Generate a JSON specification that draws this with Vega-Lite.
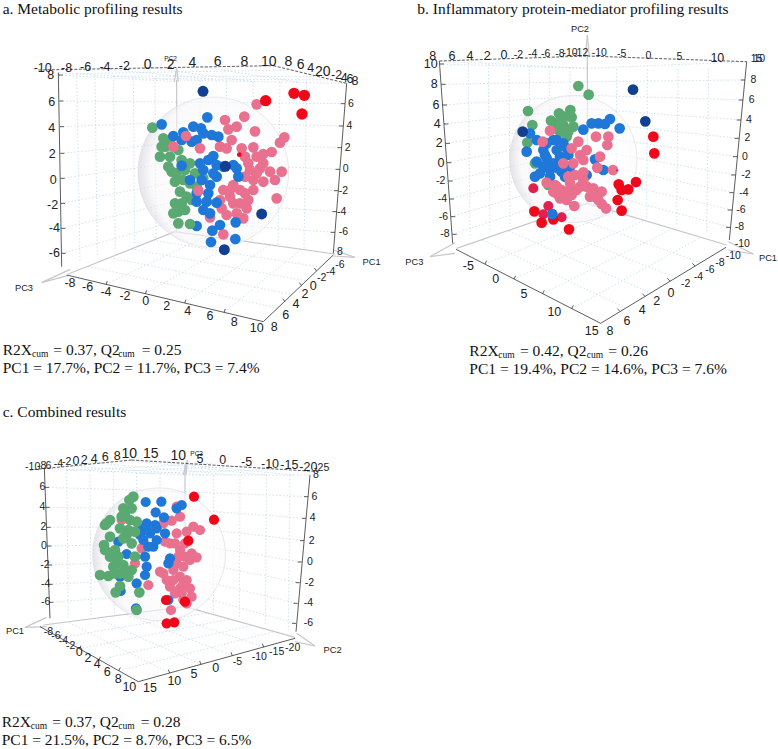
{"$schema":"https://vega.github.io/schema/vega-lite/v6.json","padding":0,"background":"white","spacing":0,"config":{"view":{"stroke":null}},
"datasets":{
"aGrid":[{"x":175,"y":225,"x2":530,"y2":245},{"x":178,"y":303,"x2":530,"y2":306},{"x":180,"y":380,"x2":530,"y2":366},{"x":181,"y":460,"x2":530,"y2":429},{"x":182,"y":535,"x2":530,"y2":487},{"x":183,"y":610,"x2":530,"y2":546},{"x":184,"y":685,"x2":530,"y2":604},{"x":185,"y":760,"x2":530,"y2":663},
{"x":530,"y":306,"x2":1035,"y2":311},{"x":530,"y":366,"x2":1030,"y2":378},{"x":530,"y":429,"x2":1025,"y2":443},{"x":530,"y":487,"x2":1020,"y2":508},{"x":530,"y":546,"x2":1015,"y2":572},{"x":530,"y":604,"x2":1010,"y2":635},{"x":530,"y":663,"x2":1005,"y2":697},
{"x":230,"y":221,"x2":240,"y2":783},{"x":285,"y":225,"x2":292,"y2":766},{"x":340,"y":228,"x2":346,"y2":749},{"x":400,"y":232,"x2":404,"y2":735},{"x":465,"y":236,"x2":468,"y2":715},
{"x":600,"y":241,"x2":600,"y2":705},{"x":680,"y":243,"x2":678,"y2":716},{"x":760,"y":245,"x2":756,"y2":727},{"x":840,"y":246,"x2":834,"y2":738},{"x":920,"y":248,"x2":912,"y2":749},
{"x":318,"y":853,"x2":620,"y2":708},{"x":436,"y":881,"x2":715,"y2":721},{"x":554,"y":909,"x2":810,"y2":734},{"x":672,"y":937,"x2":905,"y2":747},
{"x":460,"y":721,"x2":958,"y2":801},{"x":395,"y":747,"x2":916,"y2":842},{"x":330,"y":773,"x2":874,"y2":883},{"x":265,"y":799,"x2":832,"y2":924},
{"x":230,"y":221,"x2":875,"y2":210},{"x":340,"y":228,"x2":950,"y2":230},{"x":465,"y":236,"x2":1000,"y2":240},{"x":300,"y":205,"x2":640,"y2":238},{"x":450,"y":203,"x2":760,"y2":245},{"x":600,"y":199,"x2":900,"y2":247},{"x":175,"y":218,"x2":530,"y2":240},{"x":530,"y":240,"x2":1040,"y2":250}],
"aArrow":[{"x":530,"y":240,"x2":530,"y2":695},{"x":205,"y":822,"x2":525,"y2":695},{"x":525,"y":695,"x2":1005,"y2":762},{"x":125,"y":848,"x2":210,"y2":808},{"x":125,"y":848,"x2":205,"y2":826},{"x":1065,"y":772,"x2":1000,"y2":750},{"x":1065,"y":772,"x2":1000,"y2":768},{"x":530,"y":205,"x2":523,"y2":245},{"x":530,"y":205,"x2":535,"y2":245}],
"aFrame":[{"x":175,"y":218,"x2":185,"y2":800},{"x":1040,"y":250,"x2":1000,"y2":760},{"x":200,"y":825,"x2":790,"y2":965},{"x":790,"y":965,"x2":1000,"y2":765},
{"x":175,"y":225,"x2":188,"y2":225},{"x":178,"y":303,"x2":190,"y2":303},{"x":180,"y":380,"x2":192,"y2":380},{"x":181,"y":460,"x2":193,"y2":460},{"x":182,"y":535,"x2":194,"y2":535},{"x":183,"y":610,"x2":195,"y2":610},{"x":184,"y":685,"x2":196,"y2":685},{"x":185,"y":760,"x2":197,"y2":760},
{"x":1035,"y":311,"x2":1022,"y2":311},{"x":1030,"y":378,"x2":1017,"y2":378},{"x":1025,"y":443,"x2":1012,"y2":443},{"x":1020,"y":508,"x2":1007,"y2":508},{"x":1015,"y":572,"x2":1002,"y2":572},{"x":1010,"y":635,"x2":997,"y2":635},{"x":1005,"y":697,"x2":992,"y2":697},
{"x":318,"y":853,"x2":322,"y2":843},{"x":436,"y":881,"x2":440,"y2":871},{"x":554,"y":909,"x2":558,"y2":899},{"x":672,"y":937,"x2":676,"y2":927},{"x":905,"y":857,"x2":898,"y2":848},{"x":855,"y":905,"x2":848,"y2":896},{"x":950,"y":813,"x2":943,"y2":804}],
"aTop":[{"x":115,"y":210,"x2":820,"y2":197},{"x":820,"y":197,"x2":1040,"y2":250}],
"aSphere":[{"x":640,"y":517}],
"aPts":[{"g":"green","x":457,"y":383},{"g":"green","x":490,"y":415},{"g":"green","x":497,"y":440},{"g":"green","x":480,"y":470},{"g":"green","x":510,"y":470},{"g":"green","x":535,"y":450},{"g":"green","x":545,"y":480},{"g":"green","x":570,"y":490},{"g":"green","x":555,"y":510},{"g":"green","x":515,"y":515},{"g":"green","x":525,"y":545},{"g":"green","x":550,"y":540},{"g":"green","x":570,"y":550},{"g":"green","x":540,"y":575},{"g":"green","x":560,"y":590},{"g":"green","x":585,"y":520},{"g":"green","x":610,"y":535},{"g":"green","x":525,"y":610},{"g":"green","x":535,"y":635},{"g":"green","x":555,"y":630},{"g":"blue","x":590,"y":678},{"g":"green","x":535,"y":670},{"g":"green","x":570,"y":672},{"g":"green","x":575,"y":600},{"g":"green","x":485,"y":440},{"g":"green","x":505,"y":500},{"g":"green","x":530,"y":520},{"g":"green","x":545,"y":610},{"g":"green","x":520,"y":640},{"g":"green","x":590,"y":560},{"g":"green","x":600,"y":520},{"g":"green","x":510,"y":420},
{"g":"pink","x":770,"y":313},{"g":"pink","x":675,"y":360},{"g":"pink","x":733,"y":350},{"g":"pink","x":685,"y":388},{"g":"pink","x":710,"y":380},{"g":"pink","x":765,"y":394},{"g":"pink","x":695,"y":420},{"g":"pink","x":853,"y":412},{"g":"pink","x":840,"y":428},{"g":"pink","x":660,"y":440},{"g":"pink","x":680,"y":445},{"g":"pink","x":725,"y":445},{"g":"pink","x":760,"y":442},{"g":"pink","x":815,"y":456},{"g":"pink","x":790,"y":462},{"g":"pink","x":770,"y":470},{"g":"pink","x":735,"y":470},{"g":"pink","x":745,"y":490},{"g":"pink","x":790,"y":490},{"g":"pink","x":810,"y":515},{"g":"pink","x":845,"y":515},{"g":"pink","x":825,"y":540},{"g":"pink","x":770,"y":520},{"g":"pink","x":760,"y":540},{"g":"pink","x":790,"y":545},{"g":"pink","x":735,"y":530},{"g":"pink","x":700,"y":555},{"g":"pink","x":670,"y":570},{"g":"pink","x":720,"y":570},{"g":"pink","x":760,"y":570},{"g":"pink","x":690,"y":590},{"g":"pink","x":830,"y":595},{"g":"pink","x":745,"y":600},{"g":"pink","x":660,"y":600},{"g":"pink","x":720,"y":610},{"g":"pink","x":740,"y":625},{"g":"pink","x":680,"y":645},{"g":"pink","x":710,"y":640},{"g":"pink","x":730,"y":655},{"g":"pink","x":670,"y":703},{"g":"pink","x":630,"y":652},{"g":"pink","x":520,"y":440},{"g":"pink","x":750,"y":510},{"g":"pink","x":700,"y":610},{"g":"pink","x":665,"y":625},{"g":"pink","x":735,"y":580},{"g":"pink","x":690,"y":570},{"g":"pink","x":780,"y":505},
{"g":"blue","x":622,"y":352},{"g":"blue","x":485,"y":373},{"g":"blue","x":580,"y":380},{"g":"blue","x":603,"y":385},{"g":"blue","x":550,"y":397},{"g":"blue","x":520,"y":408},{"g":"blue","x":610,"y":400},{"g":"blue","x":635,"y":405},{"g":"blue","x":655,"y":410},{"g":"blue","x":545,"y":420},{"g":"blue","x":575,"y":425},{"g":"blue","x":590,"y":420},{"g":"blue","x":640,"y":468},{"g":"blue","x":625,"y":480},{"g":"blue","x":600,"y":490},{"g":"blue","x":650,"y":495},{"g":"blue","x":700,"y":495},{"g":"blue","x":610,"y":510},{"g":"blue","x":545,"y":497},{"g":"blue","x":710,"y":505},{"g":"blue","x":715,"y":530},{"g":"blue","x":570,"y":540},{"g":"blue","x":605,"y":540},{"g":"blue","x":650,"y":530},{"g":"blue","x":630,"y":555},{"g":"blue","x":590,"y":605},{"g":"blue","x":620,"y":605},{"g":"blue","x":650,"y":608},{"g":"blue","x":610,"y":630},{"g":"blue","x":630,"y":640},{"g":"blue","x":660,"y":675},{"g":"blue","x":707,"y":667},{"g":"blue","x":637,"y":692},{"g":"blue","x":633,"y":726},{"g":"blue","x":706,"y":717},{"g":"blue","x":670,"y":500},{"g":"blue","x":640,"y":520},{"g":"blue","x":590,"y":580},{"g":"blue","x":625,"y":580},
{"g":"pink","x":558,"y":408},{"g":"pink","x":600,"y":445},{"g":"pink","x":595,"y":572},
{"g":"navy","x":609,"y":274},{"g":"navy","x":676,"y":499},{"g":"navy","x":785,"y":642},{"g":"navy","x":673,"y":749},{"g":"red","x":797,"y":302},{"g":"red","x":882,"y":280},{"g":"red","x":913,"y":286},{"g":"red","x":906,"y":342},{"g":"dot","x":718,"y":464}],
"aTicks":[{"x":128,"y":205,"t":"-10","k":"M"},{"x":200,"y":203,"t":"-8","k":"M"},{"x":257,"y":202,"t":"-6","k":"M"},{"x":315,"y":200,"t":"-4","k":"M"},{"x":373,"y":197,"t":"-2","k":"M"},{"x":443,"y":195,"t":"0","k":"L"},{"x":512,"y":194,"t":"2","k":"L"},{"x":577,"y":190,"t":"4","k":"L"},{"x":653,"y":187,"t":"6","k":"L"},{"x":733,"y":185,"t":"8","k":"L"},{"x":806,"y":185,"t":"10","k":"L"},{"x":865,"y":185,"t":"8","k":"L"},{"x":902,"y":194,"t":"6","k":"L"},{"x":932,"y":203,"t":"4","k":"M"},{"x":968,"y":215,"t":"20","k":"L"},{"x":1010,"y":226,"t":"-2","k":"M"},{"x":1033,"y":233,"t":"4","k":"M"},{"x":1050,"y":238,"t":"6","k":"M"},{"x":1065,"y":243,"t":"8","k":"M"},{"x":512,"y":178,"t":"PC2","k":"XS"},
{"x":152,"y":226,"t":"8","k":"M"},{"x":155,"y":305,"t":"6","k":"M"},{"x":155,"y":385,"t":"4","k":"M"},{"x":157,"y":462,"t":"2","k":"M"},{"x":160,"y":540,"t":"0","k":"M"},{"x":158,"y":615,"t":"-2","k":"M"},{"x":163,"y":683,"t":"-4","k":"M"},{"x":163,"y":760,"t":"-6","k":"M"},
{"x":1053,"y":311,"t":"6","k":"S"},{"x":1048,"y":378,"t":"4","k":"S"},{"x":1043,"y":443,"t":"2","k":"S"},{"x":1037,"y":508,"t":"0","k":"S"},{"x":1030,"y":572,"t":"-2","k":"S"},{"x":1025,"y":635,"t":"-4","k":"S"},{"x":1030,"y":697,"t":"-6","k":"S"},{"x":1020,"y":755,"t":"8","k":"S"},
{"x":1115,"y":787,"t":"PC1","k":"P"},{"x":72,"y":863,"t":"PC3","k":"P"},
{"x":210,"y":850,"t":"-8","k":"M"},{"x":263,"y":862,"t":"-6","k":"M"},{"x":318,"y":875,"t":"-4","k":"M"},{"x":375,"y":888,"t":"-2","k":"M"},{"x":437,"y":903,"t":"0","k":"M"},{"x":500,"y":917,"t":"2","k":"M"},{"x":563,"y":932,"t":"4","k":"M"},{"x":630,"y":948,"t":"6","k":"M"},{"x":703,"y":965,"t":"8","k":"M"},{"x":770,"y":983,"t":"10","k":"M"},
{"x":1020,"y":795,"t":"-6","k":"S"},{"x":992,"y":815,"t":"-4","k":"S"},{"x":965,"y":835,"t":"-2","k":"S"},{"x":940,"y":858,"t":"0","k":"M"},{"x":915,"y":882,"t":"2","k":"M"},{"x":888,"y":912,"t":"4","k":"M"},{"x":857,"y":945,"t":"6","k":"M"},{"x":823,"y":982,"t":"8","k":"M"}],
"aCap":[{"x":8,"y":42,"t":"a. Metabolic profiling results","k":"T"},{"x":8,"y":1065,"t":"R2X","k":"T"},{"x":96,"y":1072,"t":"cum","k":"sub"},{"x":160,"y":1065,"t":"= 0.37, Q2","k":"T"},{"x":355,"y":1072,"t":"cum","k":"sub"},{"x":425,"y":1065,"t":"= 0.25","k":"T"},{"x":8,"y":1118,"t":"PC1 = 17.7%, PC2 = 11.7%, PC3 = 7.4%","k":"T"}],

"bGrid":[{"x":149,"y":192,"x2":592,"y2":205},{"x":154,"y":253,"x2":592,"y2":245},{"x":158,"y":315,"x2":592,"y2":286},{"x":162,"y":372,"x2":592,"y2":326},{"x":167,"y":430,"x2":592,"y2":367},{"x":171,"y":488,"x2":592,"y2":407},{"x":175,"y":543,"x2":592,"y2":448},{"x":179,"y":597,"x2":592,"y2":488},{"x":183,"y":650,"x2":592,"y2":529},{"x":187,"y":703,"x2":592,"y2":569},
{"x":592,"y":245,"x2":1065,"y2":240},{"x":592,"y":286,"x2":1059,"y2":300},{"x":592,"y":326,"x2":1053,"y2":360},{"x":592,"y":367,"x2":1047,"y2":415},{"x":592,"y":407,"x2":1042,"y2":470},{"x":592,"y":448,"x2":1036,"y2":525},{"x":592,"y":488,"x2":1031,"y2":578},{"x":592,"y":529,"x2":1026,"y2":630},{"x":592,"y":569,"x2":1021,"y2":682},
{"x":235,"y":188,"x2":240,"y2":715},{"x":295,"y":192,"x2":300,"y2":697},{"x":357,"y":195,"x2":360,"y2":679},{"x":418,"y":198,"x2":420,"y2":661},{"x":479,"y":200,"x2":480,"y2":643},{"x":540,"y":203,"x2":540,"y2":625},
{"x":680,"y":207,"x2":680,"y2":633},{"x":772,"y":207,"x2":770,"y2":656},{"x":864,"y":207,"x2":860,"y2":679},{"x":956,"y":207,"x2":950,"y2":702},
{"x":285,"y":792,"x2":675,"y2":636},{"x":372,"y":837,"x2":758,"y2":663},{"x":458,"y":881,"x2":842,"y2":689},{"x":545,"y":926,"x2":925,"y2":716},{"x":513,"y":638,"x2":933,"y2":788},{"x":434,"y":665,"x2":858,"y2":833},{"x":356,"y":693,"x2":782,"y2":879},{"x":277,"y":720,"x2":707,"y2":924},
{"x":148,"y":183,"x2":592,"y2":205},{"x":592,"y":205,"x2":1070,"y2":185}],
"bArrow":[{"x":592,"y":165,"x2":592,"y2":610},{"x":200,"y":745,"x2":592,"y2":610},{"x":592,"y":610,"x2":1010,"y2":735},{"x":592,"y":105,"x2":586,"y2":170},{"x":592,"y":105,"x2":598,"y2":170},{"x":120,"y":770,"x2":195,"y2":728},{"x":120,"y":770,"x2":195,"y2":760},{"x":1090,"y":762,"x2":1015,"y2":725},{"x":1090,"y":762,"x2":1015,"y2":750}],
"bFrame":[{"x":148,"y":183,"x2":188,"y2":730},{"x":1070,"y":185,"x2":1018,"y2":720},{"x":198,"y":748,"x2":632,"y2":970},{"x":632,"y":970,"x2":1008,"y2":742},
{"x":149,"y":192,"x2":162,"y2":192},{"x":154,"y":253,"x2":167,"y2":253},{"x":158,"y":315,"x2":171,"y2":315},{"x":162,"y":372,"x2":175,"y2":372},{"x":167,"y":430,"x2":180,"y2":430},{"x":171,"y":488,"x2":184,"y2":488},{"x":175,"y":543,"x2":188,"y2":543},{"x":179,"y":597,"x2":192,"y2":597},{"x":183,"y":650,"x2":196,"y2":650},{"x":187,"y":703,"x2":200,"y2":703},
{"x":1065,"y":240,"x2":1052,"y2":240},{"x":1059,"y":300,"x2":1046,"y2":300},{"x":1053,"y":360,"x2":1040,"y2":360},{"x":1047,"y":415,"x2":1034,"y2":415},{"x":1042,"y":470,"x2":1029,"y2":470},{"x":1036,"y":525,"x2":1023,"y2":525},{"x":1031,"y":578,"x2":1018,"y2":578},{"x":1026,"y":630,"x2":1013,"y2":630},{"x":1021,"y":682,"x2":1008,"y2":682},
{"x":285,"y":792,"x2":290,"y2":782},{"x":372,"y":837,"x2":377,"y2":827},{"x":458,"y":881,"x2":463,"y2":871},{"x":545,"y":926,"x2":550,"y2":916},{"x":915,"y":798,"x2":907,"y2":790},{"x":840,"y":843,"x2":832,"y2":835},{"x":765,"y":889,"x2":757,"y2":881},{"x":690,"y":934,"x2":682,"y2":926}],
"bTop":[{"x":148,"y":183,"x2":592,"y2":168},{"x":592,"y":168,"x2":1070,"y2":185}],
"bSphere":[{"x":550,"y":477}],
"bPts":[{"g":"green","x":565,"y":258},{"g":"green","x":596,"y":284},{"g":"green","x":414,"y":333},{"g":"green","x":427,"y":375},{"g":"green","x":541,"y":330},{"g":"green","x":507,"y":340},{"g":"green","x":483,"y":362},{"g":"green","x":545,"y":352},{"g":"green","x":520,"y":375},{"g":"green","x":550,"y":380},{"g":"green","x":490,"y":385},{"g":"green","x":510,"y":395},{"g":"green","x":535,"y":395},{"g":"green","x":412,"y":428},{"g":"green","x":435,"y":490},{"g":"green","x":475,"y":555},{"g":"green","x":525,"y":350},{"g":"green","x":530,"y":410},{"g":"green","x":510,"y":365},
{"g":"blue","x":410,"y":455},{"g":"blue","x":440,"y":420},{"g":"blue","x":605,"y":370},{"g":"blue","x":625,"y":370},{"g":"blue","x":645,"y":372},{"g":"blue","x":660,"y":357},{"g":"blue","x":580,"y":389},{"g":"blue","x":689,"y":385},{"g":"blue","x":490,"y":420},{"g":"blue","x":520,"y":430},{"g":"blue","x":460,"y":450},{"g":"blue","x":500,"y":450},{"g":"blue","x":535,"y":465},{"g":"blue","x":440,"y":485},{"g":"blue","x":470,"y":475},{"g":"blue","x":490,"y":490},{"g":"blue","x":460,"y":500},{"g":"blue","x":435,"y":530},{"g":"blue","x":515,"y":515},{"g":"blue","x":525,"y":530},{"g":"blue","x":480,"y":530},{"g":"blue","x":450,"y":520},{"g":"blue","x":615,"y":478},{"g":"blue","x":590,"y":525},{"g":"blue","x":640,"y":510},{"g":"blue","x":420,"y":400},{"g":"blue","x":470,"y":500},{"g":"blue","x":510,"y":470},{"g":"blue","x":465,"y":465},{"g":"blue","x":480,"y":510},{"g":"blue","x":505,"y":505},{"g":"blue","x":540,"y":500},{"g":"blue","x":500,"y":420},{"g":"blue","x":470,"y":430},{"g":"blue","x":530,"y":445},
{"g":"pink","x":458,"y":425},{"g":"pink","x":480,"y":392},{"g":"pink","x":618,"y":410},{"g":"pink","x":655,"y":410},{"g":"pink","x":652,"y":435},{"g":"pink","x":565,"y":425},{"g":"pink","x":545,"y":445},{"g":"pink","x":590,"y":450},{"g":"pink","x":570,"y":465},{"g":"pink","x":630,"y":470},{"g":"pink","x":550,"y":490},{"g":"pink","x":520,"y":490},{"g":"pink","x":580,"y":480},{"g":"pink","x":622,"y":503},{"g":"pink","x":669,"y":510},{"g":"pink","x":580,"y":517},{"g":"pink","x":555,"y":525},{"g":"pink","x":535,"y":530},{"g":"pink","x":540,"y":550},{"g":"pink","x":470,"y":548},{"g":"pink","x":500,"y":560},{"g":"pink","x":490,"y":575},{"g":"pink","x":520,"y":580},{"g":"pink","x":545,"y":585},{"g":"pink","x":510,"y":595},{"g":"pink","x":530,"y":600},{"g":"pink","x":590,"y":560},{"g":"pink","x":610,"y":565},{"g":"pink","x":635,"y":575},{"g":"pink","x":600,"y":590},{"g":"pink","x":625,"y":600},{"g":"pink","x":635,"y":612},{"g":"pink","x":648,"y":625},{"g":"pink","x":553,"y":618},{"g":"pink","x":570,"y":560},{"g":"pink","x":500,"y":580},{"g":"pink","x":580,"y":540},{"g":"pink","x":615,"y":590},{"g":"pink","x":515,"y":570},{"g":"pink","x":535,"y":575},{"g":"pink","x":560,"y":570},{"g":"pink","x":605,"y":580},{"g":"pink","x":495,"y":555},
{"g":"rose","x":430,"y":565},{"g":"rose","x":475,"y":618},{"g":"rose","x":515,"y":652},{"g":"rose","x":460,"y":643},{"g":"red","x":490,"y":658},{"g":"red","x":433,"y":634},{"g":"red","x":455,"y":668},{"g":"red","x":537,"y":688},{"g":"blue","x":487,"y":642},
{"g":"navy","x":398,"y":395},{"g":"navy","x":729,"y":269},{"g":"navy","x":766,"y":364},{"g":"red","x":790,"y":410},{"g":"red","x":793,"y":460},{"g":"red","x":738,"y":546},{"g":"red","x":686,"y":553},{"g":"red","x":715,"y":568},{"g":"red","x":695,"y":570},{"g":"red","x":683,"y":600},{"g":"red","x":695,"y":632},{"g":"dot","x":681,"y":511}],
"bTicks":[{"x":128,"y":167,"t":"8","k":"M"},{"x":186,"y":167,"t":"6","k":"M"},{"x":240,"y":167,"t":"4","k":"M"},{"x":292,"y":167,"t":"2","k":"M"},{"x":342,"y":165,"t":"0","k":"M"},{"x":385,"y":165,"t":"-2","k":"S"},{"x":428,"y":163,"t":"-4","k":"S"},{"x":467,"y":163,"t":"-6","k":"S"},{"x":510,"y":162,"t":"-8","k":"S"},{"x":540,"y":160,"t":"-10","k":"S"},{"x":572,"y":160,"t":"-12","k":"S"},{"x":628,"y":160,"t":"-10","k":"S"},{"x":695,"y":163,"t":"-5","k":"S"},{"x":775,"y":167,"t":"0","k":"S"},{"x":868,"y":170,"t":"5","k":"S"},{"x":982,"y":173,"t":"10","k":"M"},{"x":1100,"y":178,"t":"15","k":"S"},{"x":1108,"y":178,"t":"10","k":"S"},
{"x":122,"y":192,"t":"10","k":"M"},{"x":133,"y":253,"t":"8","k":"M"},{"x":138,"y":315,"t":"6","k":"M"},{"x":142,"y":372,"t":"4","k":"M"},{"x":148,"y":430,"t":"2","k":"M"},{"x":153,"y":488,"t":"0","k":"M"},{"x":152,"y":543,"t":"-2","k":"S"},{"x":157,"y":597,"t":"-4","k":"S"},{"x":160,"y":650,"t":"-6","k":"S"},{"x":165,"y":703,"t":"-8","k":"S"},
{"x":1090,"y":240,"t":"8","k":"S"},{"x":1085,"y":300,"t":"6","k":"S"},{"x":1077,"y":360,"t":"4","k":"S"},{"x":1072,"y":415,"t":"2","k":"S"},{"x":1065,"y":470,"t":"0","k":"S"},{"x":1068,"y":525,"t":"-2","k":"S"},{"x":1062,"y":578,"t":"-4","k":"S"},{"x":1053,"y":630,"t":"-6","k":"S"},{"x":1048,"y":682,"t":"-8","k":"S"},{"x":1057,"y":733,"t":"-10","k":"S"},
{"x":570,"y":87,"t":"PC2","k":"P"},{"x":1134,"y":774,"t":"PC1","k":"P"},{"x":73,"y":785,"t":"PC3","k":"P"},
{"x":235,"y":797,"t":"-5","k":"M"},{"x":317,"y":838,"t":"0","k":"M"},{"x":402,"y":882,"t":"5","k":"M"},{"x":493,"y":935,"t":"10","k":"M"},{"x":605,"y":993,"t":"15","k":"M"},
{"x":1030,"y":768,"t":"-10","k":"S"},{"x":990,"y":790,"t":"-8","k":"S"},{"x":960,"y":810,"t":"-6","k":"S"},{"x":925,"y":830,"t":"-4","k":"S"},{"x":887,"y":852,"t":"-2","k":"S"},{"x":843,"y":878,"t":"0","k":"M"},{"x":800,"y":903,"t":"2","k":"M"},{"x":757,"y":930,"t":"4","k":"M"},{"x":711,"y":962,"t":"6","k":"M"},{"x":660,"y":993,"t":"8","k":"M"}],
"bCap":[{"x":82,"y":42,"t":"b. Inflammatory protein-mediator profiling results","k":"T"},{"x":238,"y":1068,"t":"R2X","k":"T"},{"x":325,"y":1075,"t":"cum","k":"sub"},{"x":390,"y":1068,"t":"= 0.42, Q2","k":"T"},{"x":590,"y":1075,"t":"cum","k":"sub"},{"x":655,"y":1068,"t":"= 0.26","k":"T"},{"x":238,"y":1122,"t":"PC1 = 19.4%, PC2 = 14.6%, PC3 = 7.6%","k":"T"}],

"cGrid":[{"x":135,"y":262,"x2":555,"y2":275},{"x":137,"y":322,"x2":555,"y2":328},{"x":140,"y":382,"x2":555,"y2":380},{"x":142,"y":438,"x2":555,"y2":430},{"x":144,"y":495,"x2":555,"y2":480},{"x":146,"y":553,"x2":555,"y2":531},{"x":148,"y":607,"x2":555,"y2":578},
{"x":555,"y":275,"x2":924,"y2":290},{"x":555,"y":328,"x2":918,"y2":355},{"x":555,"y":380,"x2":912,"y2":422},{"x":555,"y":430,"x2":905,"y2":486},{"x":555,"y":480,"x2":899,"y2":548},{"x":555,"y":531,"x2":893,"y2":610},{"x":555,"y":578,"x2":888,"y2":670},
{"x":200,"y":208,"x2":205,"y2":651},{"x":270,"y":212,"x2":273,"y2":645},{"x":340,"y":215,"x2":343,"y2":639},{"x":410,"y":218,"x2":412,"y2":633},{"x":480,"y":221,"x2":481,"y2":627},
{"x":640,"y":226,"x2":640,"y2":639},{"x":720,"y":226,"x2":718,"y2":657},{"x":800,"y":226,"x2":796,"y2":675},{"x":870,"y":226,"x2":865,"y2":691},
{"x":179,"y":713,"x2":621,"y2":639},{"x":238,"y":746,"x2":687,"y2":658},{"x":297,"y":779,"x2":753,"y2":677},{"x":356,"y":812,"x2":819,"y2":696},{"x":207,"y":668,"x2":509,"y2":819},{"x":294,"y":656,"x2":603,"y2":793},{"x":381,"y":644,"x2":697,"y2":767},{"x":468,"y":632,"x2":791,"y2":741},
{"x":133,"y":205,"x2":555,"y2":225},{"x":555,"y":225,"x2":930,"y2":225},{"x":200,"y":198,"x2":620,"y2":225},{"x":300,"y":190,"x2":700,"y2":225},{"x":395,"y":182,"x2":800,"y2":226},{"x":500,"y":188,"x2":880,"y2":225},{"x":200,"y":212,"x2":640,"y2":190},{"x":300,"y":216,"x2":760,"y2":197},{"x":420,"y":220,"x2":860,"y2":208}],
"cArrow":[{"x":555,"y":195,"x2":555,"y2":620},{"x":130,"y":675,"x2":555,"y2":620},{"x":555,"y":620,"x2":885,"y2":712},{"x":75,"y":682,"x2":140,"y2":652},{"x":75,"y":682,"x2":140,"y2":680},{"x":945,"y":738,"x2":890,"y2":700},{"x":945,"y":738,"x2":885,"y2":725},{"x":562,"y":180,"x2":550,"y2":225},{"x":562,"y":180,"x2":558,"y2":225}],
"cFrame":[{"x":133,"y":205,"x2":150,"y2":655},{"x":930,"y":225,"x2":888,"y2":695},{"x":120,"y":680,"x2":415,"y2":845},{"x":415,"y":845,"x2":885,"y2":715},
{"x":135,"y":262,"x2":147,"y2":262},{"x":137,"y":322,"x2":149,"y2":322},{"x":140,"y":382,"x2":152,"y2":382},{"x":142,"y":438,"x2":154,"y2":438},{"x":144,"y":495,"x2":156,"y2":495},{"x":146,"y":553,"x2":158,"y2":553},{"x":148,"y":607,"x2":160,"y2":607},
{"x":924,"y":290,"x2":912,"y2":290},{"x":918,"y":355,"x2":906,"y2":355},{"x":912,"y":422,"x2":900,"y2":422},{"x":905,"y":486,"x2":893,"y2":486},{"x":899,"y":548,"x2":887,"y2":548},{"x":893,"y":610,"x2":881,"y2":610},{"x":888,"y":670,"x2":876,"y2":670},
{"x":179,"y":713,"x2":184,"y2":704},{"x":238,"y":746,"x2":243,"y2":737},{"x":297,"y":779,"x2":302,"y2":770},{"x":356,"y":812,"x2":361,"y2":803},{"x":509,"y":819,"x2":505,"y2":809},{"x":603,"y":793,"x2":599,"y2":783},{"x":697,"y":767,"x2":693,"y2":757},{"x":791,"y":741,"x2":787,"y2":731}],
"cTop":[{"x":90,"y":210,"x2":395,"y2":180},{"x":395,"y":180,"x2":955,"y2":215}],
"cSphere":[{"x":477,"y":463}],
"cPts":[{"g":"red","x":582,"y":290},{"g":"pink","x":530,"y":320},{"g":"pink","x":540,"y":350},{"g":"pink","x":515,"y":362},{"g":"pink","x":490,"y":370},{"g":"pink","x":580,"y":380},{"g":"pink","x":600,"y":390},{"g":"pink","x":560,"y":395},{"g":"pink","x":530,"y":400},{"g":"pink","x":510,"y":430},{"g":"pink","x":525,"y":430},{"g":"pink","x":495,"y":425},{"g":"pink","x":540,"y":450},{"g":"pink","x":575,"y":460},{"g":"pink","x":590,"y":472},{"g":"pink","x":555,"y":470},{"g":"pink","x":530,"y":490},{"g":"pink","x":550,"y":500},{"g":"pink","x":520,"y":510},{"g":"pink","x":480,"y":515},{"g":"pink","x":540,"y":530},{"g":"pink","x":560,"y":540},{"g":"pink","x":500,"y":540},{"g":"pink","x":510,"y":560},{"g":"pink","x":540,"y":565},{"g":"pink","x":570,"y":565},{"g":"pink","x":575,"y":590},{"g":"pink","x":560,"y":610},{"g":"pink","x":550,"y":600},{"g":"pink","x":513,"y":630},{"g":"pink","x":425,"y":445},{"g":"pink","x":365,"y":360},{"g":"pink","x":405,"y":490},{"g":"pink","x":545,"y":580},{"g":"pink","x":555,"y":430},{"g":"pink","x":570,"y":480},{"g":"pink","x":535,"y":470},{"g":"pink","x":520,"y":540},{"g":"pink","x":490,"y":520},{"g":"pink","x":550,"y":550},{"g":"pink","x":525,"y":580},
{"g":"blue","x":437,"y":306},{"g":"blue","x":484,"y":305},{"g":"blue","x":467,"y":337},{"g":"blue","x":545,"y":315},{"g":"blue","x":530,"y":325},{"g":"blue","x":492,"y":352},{"g":"blue","x":440,"y":390},{"g":"blue","x":420,"y":405},{"g":"blue","x":465,"y":375},{"g":"blue","x":450,"y":400},{"g":"blue","x":495,"y":400},{"g":"blue","x":460,"y":440},{"g":"blue","x":435,"y":470},{"g":"blue","x":380,"y":462},{"g":"blue","x":355,"y":425},{"g":"blue","x":510,"y":475},{"g":"blue","x":505,"y":490},{"g":"blue","x":435,"y":525},{"g":"blue","x":440,"y":500},{"g":"blue","x":410,"y":550},{"g":"blue","x":360,"y":530},{"g":"blue","x":362,"y":573},{"g":"blue","x":505,"y":600},{"g":"blue","x":408,"y":625},{"g":"blue","x":430,"y":420},{"g":"blue","x":470,"y":420},{"g":"blue","x":445,"y":440},{"g":"blue","x":470,"y":385},{"g":"blue","x":425,"y":385},{"g":"blue","x":440,"y":370},
{"g":"pink","x":445,"y":555},
{"g":"green","x":400,"y":290},{"g":"green","x":388,"y":300},{"g":"green","x":370,"y":325},{"g":"green","x":395,"y":325},{"g":"green","x":365,"y":350},{"g":"green","x":330,"y":360},{"g":"green","x":315,"y":375},{"g":"green","x":320,"y":370},{"g":"green","x":390,"y":360},{"g":"green","x":410,"y":365},{"g":"green","x":360,"y":385},{"g":"green","x":385,"y":390},{"g":"green","x":405,"y":395},{"g":"green","x":395,"y":430},{"g":"green","x":330,"y":410},{"g":"green","x":312,"y":435},{"g":"green","x":315,"y":450},{"g":"green","x":345,"y":450},{"g":"green","x":330,"y":470},{"g":"green","x":355,"y":470},{"g":"green","x":405,"y":470},{"g":"green","x":340,"y":500},{"g":"green","x":370,"y":495},{"g":"green","x":395,"y":510},{"g":"green","x":360,"y":520},{"g":"green","x":300,"y":525},{"g":"green","x":325,"y":528},{"g":"green","x":385,"y":530},{"g":"green","x":360,"y":558},{"g":"green","x":347,"y":577},{"g":"green","x":418,"y":577},{"g":"green","x":410,"y":630},{"g":"green","x":380,"y":405},{"g":"green","x":370,"y":415},{"g":"green","x":375,"y":340},{"g":"green","x":350,"y":490},{"g":"green","x":375,"y":510},{"g":"green","x":345,"y":520},
{"g":"red","x":642,"y":359},{"g":"red","x":565,"y":422},{"g":"red","x":498,"y":600},{"g":"red","x":555,"y":605},{"g":"red","x":500,"y":670},{"g":"red","x":523,"y":667}],
"cTicks":[{"x":98,"y":200,"t":"-10","k":"S"},{"x":125,"y":198,"t":"-8","k":"S"},{"x":145,"y":197,"t":"6","k":"S"},{"x":175,"y":192,"t":"-4","k":"S"},{"x":200,"y":187,"t":"-2","k":"S"},{"x":228,"y":183,"t":"0","k":"M"},{"x":253,"y":181,"t":"2","k":"M"},{"x":283,"y":177,"t":"4","k":"M"},{"x":316,"y":172,"t":"6","k":"M"},{"x":352,"y":167,"t":"8","k":"M"},{"x":388,"y":162,"t":"10","k":"L"},{"x":452,"y":162,"t":"15","k":"L"},{"x":535,"y":168,"t":"10","k":"L"},{"x":600,"y":177,"t":"5","k":"M"},{"x":668,"y":181,"t":"0","k":"M"},{"x":740,"y":187,"t":"-5","k":"M"},{"x":810,"y":192,"t":"-10","k":"M"},{"x":868,"y":195,"t":"-15","k":"M"},{"x":925,"y":200,"t":"-20","k":"M"},{"x":965,"y":203,"t":"-25","k":"S"},{"x":590,"y":162,"t":"PC3","k":"XS"},
{"x":127,"y":262,"t":"6","k":"S"},{"x":127,"y":322,"t":"4","k":"S"},{"x":130,"y":382,"t":"2","k":"S"},{"x":132,"y":438,"t":"0","k":"S"},{"x":135,"y":495,"t":"-2","k":"S"},{"x":137,"y":553,"t":"-4","k":"S"},{"x":137,"y":607,"t":"-6","k":"S"},
{"x":948,"y":225,"t":"8","k":"S"},{"x":943,"y":290,"t":"6","k":"S"},{"x":938,"y":355,"t":"4","k":"S"},{"x":935,"y":422,"t":"2","k":"S"},{"x":930,"y":486,"t":"0","k":"S"},{"x":928,"y":548,"t":"-2","k":"S"},{"x":925,"y":610,"t":"-4","k":"S"},{"x":925,"y":670,"t":"-6","k":"S"},
{"x":45,"y":693,"t":"PC1","k":"P"},{"x":998,"y":750,"t":"PC2","k":"P"},
{"x":145,"y":695,"t":"-8","k":"S"},{"x":168,"y":708,"t":"-6","k":"S"},{"x":190,"y":722,"t":"-4","k":"S"},{"x":212,"y":738,"t":"-2","k":"S"},{"x":238,"y":755,"t":"0","k":"M"},{"x":264,"y":775,"t":"2","k":"M"},{"x":292,"y":793,"t":"4","k":"M"},{"x":322,"y":815,"t":"6","k":"M"},{"x":355,"y":838,"t":"8","k":"M"},{"x":388,"y":862,"t":"10","k":"M"},
{"x":450,"y":865,"t":"15","k":"M"},{"x":523,"y":843,"t":"10","k":"M"},{"x":582,"y":822,"t":"5","k":"M"},{"x":647,"y":803,"t":"0","k":"M"},{"x":712,"y":787,"t":"-5","k":"S"},{"x":778,"y":770,"t":"-10","k":"S"},{"x":830,"y":757,"t":"-15","k":"S"},{"x":878,"y":743,"t":"-20","k":"S"}],
"cCap":[{"x":8,"y":52,"t":"c. Combined results","k":"T"},{"x":5,"y":980,"t":"R2X","k":"T"},{"x":92,"y":987,"t":"cum","k":"sub"},{"x":157,"y":980,"t":"= 0.37, Q2","k":"T"},{"x":355,"y":987,"t":"cum","k":"sub"},{"x":422,"y":980,"t":"= 0.28","k":"T"},{"x":5,"y":1035,"t":"PC1 = 21.5%, PC2 = 8.7%, PC3 = 6.5%","k":"T"}]
},
"vconcat":[{"spacing":0,"hconcat":[
{"width":390,"height":400,"resolve":{"scale":{"size":"independent"}},"encoding":{"x":{"field":"x","type":"quantitative","axis":null,"scale":{"domain":[0,1170],"nice":false,"zero":false}},"y":{"field":"y","type":"quantitative","axis":null,"scale":{"domain":[1200,0],"nice":false,"zero":false}}},
"layer":[
{"data":{"name":"aGrid"},"mark":{"type":"rule","stroke":"#c4d8ea","strokeWidth":0.8,"strokeDash":[1.5,2]},"encoding":{"x2":{"field":"x2"},"y2":{"field":"y2"}}},
{"data":{"name":"aArrow"},"mark":{"type":"rule","stroke":"#c8c5cf","strokeWidth":1.2},"encoding":{"x2":{"field":"x2"},"y2":{"field":"y2"}}},
{"data":{"name":"aTop"},"mark":{"type":"rule","stroke":"#333333","strokeWidth":0.8,"strokeDash":[3,1.5]},"encoding":{"x2":{"field":"x2"},"y2":{"field":"y2"}}},
{"data":{"name":"aFrame"},"mark":{"type":"rule","stroke":"#333333","strokeWidth":0.8},"encoding":{"x2":{"field":"x2"},"y2":{"field":"y2"}}},
{"data":{"name":"aSphere"},"mark":{"type":"point","shape":"circle","filled":true,"size":22698,"stroke":"#dcdae0","strokeWidth":0.6,"fill":{"gradient":"radial","x1":0.62,"y1":0.5,"r1":0.25,"x2":0.62,"y2":0.5,"r2":0.63,"stops":[{"offset":0,"color":"#ffffff"},{"offset":0.75,"color":"#f6f5f8"},{"offset":1,"color":"#cfccd6"}]},"fillOpacity":0.6}},
{"data":{"name":"aPts"},"mark":{"type":"circle","opacity":1},"encoding":{"color":{"field":"g","type":"nominal","legend":null,"scale":{"domain":["green","blue","pink","red","navy","rose","dot"],"range":["#5aa972","#1f78d8","#e9708e","#f0081a","#123f8f","#e0204f","#f0081a"]}},"size":{"field":"g","type":"nominal","legend":null,"scale":{"type":"ordinal","domain":["green","blue","pink","red","navy","rose","dot"],"range":[115,115,115,130,120,100,22]}}}},
{"data":{"name":"aTicks"},"mark":{"type":"text","font":"Liberation Sans","align":"center","baseline":"middle","fill":"#222222"},"encoding":{"text":{"field":"t"},"size":{"field":"k","type":"nominal","legend":null,"scale":{"type":"ordinal","domain":["L","M","S","P","XS"],"range":[14,12.5,10.5,9.3,6.5]}}}},
{"data":{"name":"aCap"},"mark":{"type":"text","font":"Liberation Serif","align":"left","baseline":"alphabetic","fill":"#111111"},"encoding":{"text":{"field":"t"},"size":{"field":"k","type":"nominal","legend":null,"scale":{"type":"ordinal","domain":["T","sub"],"range":[15.5,9.5]}}}}
]},
{"width":388,"height":400,"resolve":{"scale":{"size":"independent"}},"encoding":{"x":{"field":"x","type":"quantitative","axis":null,"scale":{"domain":[0,1164],"nice":false,"zero":false}},"y":{"field":"y","type":"quantitative","axis":null,"scale":{"domain":[1200,0],"nice":false,"zero":false}}},
"layer":[
{"data":{"name":"bGrid"},"mark":{"type":"rule","stroke":"#c4d8ea","strokeWidth":0.8,"strokeDash":[1.5,2]},"encoding":{"x2":{"field":"x2"},"y2":{"field":"y2"}}},
{"data":{"name":"bArrow"},"mark":{"type":"rule","stroke":"#c8c5cf","strokeWidth":1.2},"encoding":{"x2":{"field":"x2"},"y2":{"field":"y2"}}},
{"data":{"name":"bTop"},"mark":{"type":"rule","stroke":"#333333","strokeWidth":0.8,"strokeDash":[3,1.5]},"encoding":{"x2":{"field":"x2"},"y2":{"field":"y2"}}},
{"data":{"name":"bFrame"},"mark":{"type":"rule","stroke":"#333333","strokeWidth":0.8},"encoding":{"x2":{"field":"x2"},"y2":{"field":"y2"}}},
{"data":{"name":"bSphere"},"mark":{"type":"point","shape":"circle","filled":true,"size":16286,"stroke":"#dcdae0","strokeWidth":0.6,"fill":{"gradient":"radial","x1":0.62,"y1":0.5,"r1":0.25,"x2":0.62,"y2":0.5,"r2":0.63,"stops":[{"offset":0,"color":"#ffffff"},{"offset":0.75,"color":"#f6f5f8"},{"offset":1,"color":"#cfccd6"}]},"fillOpacity":0.6}},
{"data":{"name":"bPts"},"mark":{"type":"circle","opacity":1},"encoding":{"color":{"field":"g","type":"nominal","legend":null,"scale":{"domain":["green","blue","pink","red","navy","rose","dot"],"range":["#5aa972","#1f78d8","#e9708e","#f0081a","#123f8f","#e0204f","#f0081a"]}},"size":{"field":"g","type":"nominal","legend":null,"scale":{"type":"ordinal","domain":["green","blue","pink","red","navy","rose","dot"],"range":[115,115,115,115,115,100,3]}}}},
{"data":{"name":"bTicks"},"mark":{"type":"text","font":"Liberation Sans","align":"center","baseline":"middle","fill":"#222222"},"encoding":{"text":{"field":"t"},"size":{"field":"k","type":"nominal","legend":null,"scale":{"type":"ordinal","domain":["L","M","S","P","XS"],"range":[14,12.5,10.5,9.3,6.5]}}}},
{"data":{"name":"bCap"},"mark":{"type":"text","font":"Liberation Serif","align":"left","baseline":"alphabetic","fill":"#111111"},"encoding":{"text":{"field":"t"},"size":{"field":"k","type":"nominal","legend":null,"scale":{"type":"ordinal","domain":["T","sub"],"range":[15.5,9.5]}}}}
]}
]},
{"width":390,"height":349,"resolve":{"scale":{"size":"independent"}},"encoding":{"x":{"field":"x","type":"quantitative","axis":null,"scale":{"domain":[0,1170],"nice":false,"zero":false}},"y":{"field":"y","type":"quantitative","axis":null,"scale":{"domain":[1047,0],"nice":false,"zero":false}}},
"layer":[
{"data":{"name":"cGrid"},"mark":{"type":"rule","stroke":"#c4d8ea","strokeWidth":0.8,"strokeDash":[1.5,2]},"encoding":{"x2":{"field":"x2"},"y2":{"field":"y2"}}},
{"data":{"name":"cArrow"},"mark":{"type":"rule","stroke":"#c8c5cf","strokeWidth":1.2},"encoding":{"x2":{"field":"x2"},"y2":{"field":"y2"}}},
{"data":{"name":"cTop"},"mark":{"type":"rule","stroke":"#333333","strokeWidth":0.8,"strokeDash":[3,1.5]},"encoding":{"x2":{"field":"x2"},"y2":{"field":"y2"}}},
{"data":{"name":"cFrame"},"mark":{"type":"rule","stroke":"#333333","strokeWidth":0.8},"encoding":{"x2":{"field":"x2"},"y2":{"field":"y2"}}},
{"data":{"name":"cSphere"},"mark":{"type":"point","shape":"circle","filled":true,"size":17671,"stroke":"#dcdae0","strokeWidth":0.6,"fill":{"gradient":"radial","x1":0.62,"y1":0.5,"r1":0.25,"x2":0.62,"y2":0.5,"r2":0.63,"stops":[{"offset":0,"color":"#ffffff"},{"offset":0.75,"color":"#f6f5f8"},{"offset":1,"color":"#cfccd6"}]},"fillOpacity":0.6}},
{"data":{"name":"cPts"},"mark":{"type":"circle","opacity":1},"encoding":{"color":{"field":"g","type":"nominal","legend":null,"scale":{"domain":["green","blue","pink","red"],"range":["#5aa972","#1f78d8","#e9708e","#f0081a"]}},"size":{"field":"g","type":"nominal","legend":null,"scale":{"type":"ordinal","domain":["green","blue","pink","red"],"range":[115,105,105,105]}}}},
{"data":{"name":"cTicks"},"mark":{"type":"text","font":"Liberation Sans","align":"center","baseline":"middle","fill":"#222222"},"encoding":{"text":{"field":"t"},"size":{"field":"k","type":"nominal","legend":null,"scale":{"type":"ordinal","domain":["L","M","S","P","XS"],"range":[14,12.5,10.5,9.3,6.5]}}}},
{"data":{"name":"cCap"},"mark":{"type":"text","font":"Liberation Serif","align":"left","baseline":"alphabetic","fill":"#111111"},"encoding":{"text":{"field":"t"},"size":{"field":"k","type":"nominal","legend":null,"scale":{"type":"ordinal","domain":["T","sub"],"range":[15.5,9.5]}}}}
]}
]}
